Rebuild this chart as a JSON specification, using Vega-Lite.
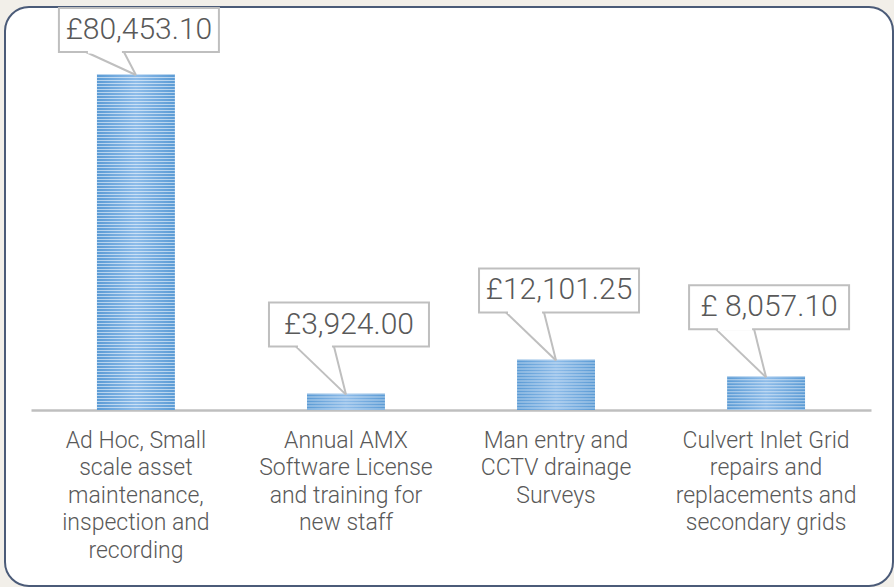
{
  "$schema": "https://vega.github.io/schema/vega-lite/v6.json",
  "autosize": {"type": "none"},
  "width": 888,
  "height": 579,
  "padding": {"left": 5, "top": 7, "right": 1, "bottom": 1},
  "background": "#f2efe9",
  "config": {
    "view": {"fill": "white", "stroke": "#4b5b78", "strokeWidth": 2, "cornerRadius": 24},
    "font": "Roboto"
  },
  "data": {
    "values": [
      {"category": "Ad Hoc, Small|scale asset|maintenance,|inspection and|recording", "amount": 80453.10, "label": "£80,453.10"},
      {"category": "Annual AMX|Software License|and training for|new staff", "amount": 3924.00, "label": "£3,924.00"},
      {"category": "Man entry and|CCTV drainage|Surveys", "amount": 12101.25, "label": "£12,101.25"},
      {"category": "Culvert Inlet Grid|repairs and|replacements and|secondary grids", "amount": 8057.10, "label": "£ 8,057.10"}
    ]
  },
  "transform": [{"calculate": "min(datum.amount, 74467)", "as": "labelAt"}],
  "encoding": {
    "x": {
      "field": "category",
      "type": "nominal",
      "sort": null,
      "scale": {"range": [26, 866], "paddingInner": 0.629, "paddingOuter": 0.314},
      "axis": {
        "title": null,
        "orient": "bottom",
        "offset": -176,
        "domainColor": "#bfbfbf",
        "domainWidth": 2.5,
        "ticks": false,
        "tickSize": 0,
        "labelAngle": 0,
        "labelExpr": "split(datum.value, '|')",
        "labelFont": "Roboto",
        "labelFontWeight": 300,
        "labelFontSize": 23,
        "labelColor": "#595959",
        "labelPadding": 19,
        "labelLineHeight": 27.5,
        "labelBaseline": "top",
        "labelLimit": 0,
        "labelOverlap": false
      }
    }
  },
  "layer": [
    {
      "mark": {
        "type": "bar",
        "fill": {
          "gradient": "linear", "x1": 0, "x2": 1, "y1": 0, "y2": 0,
          "stops": [
            {"offset": 0, "color": "#5b9bd5"},
            {"offset": 0.5, "color": "#8ebce9"},
            {"offset": 1, "color": "#5b9bd5"}
          ]
        }
      },
      "encoding": {
        "y": {"field": "amount", "type": "quantitative", "axis": null,
              "scale": {"domain": [0, 80453.1], "range": [403, 67], "nice": false, "zero": true}}
      }
    },
    {
      "mark": {"type": "rule", "stroke": "white", "strokeOpacity": 0.55, "strokeWidth": 78, "strokeDash": [1, 2], "strokeCap": "butt"},
      "encoding": {
        "y": {"field": "amount", "type": "quantitative", "axis": null},
        "y2": {"datum": 0}
      }
    },
    {
      "mark": {"type": "bar", "width": 160, "fill": "white", "stroke": "#bfbfbf", "strokeWidth": 2, "xOffset": 3, "yOffset": -91, "y2Offset": -47},
      "encoding": {
        "y": {"field": "labelAt", "type": "quantitative", "axis": null},
        "y2": {"field": "labelAt"}
      }
    },
    {
      "mark": {"type": "rule", "stroke": "#bfbfbf", "strokeWidth": 2, "xOffset": -50, "x2Offset": 0, "yOffset": -47, "y2Offset": 1},
      "encoding": {
        "x2": {"field": "category"},
        "y": {"field": "labelAt", "type": "quantitative", "axis": null},
        "y2": {"field": "amount"}
      }
    },
    {
      "mark": {"type": "rule", "stroke": "#bfbfbf", "strokeWidth": 2, "xOffset": -12, "x2Offset": 0, "yOffset": -47, "y2Offset": 1},
      "encoding": {
        "x2": {"field": "category"},
        "y": {"field": "labelAt", "type": "quantitative", "axis": null},
        "y2": {"field": "amount"}
      }
    },
    {
      "mark": {"type": "rule", "stroke": "white", "strokeWidth": 3, "xOffset": -48, "x2Offset": -14, "yOffset": -47},
      "encoding": {
        "x2": {"field": "category"},
        "y": {"field": "labelAt", "type": "quantitative", "axis": null}
      }
    },
    {
      "mark": {"type": "text", "font": "Roboto", "fontWeight": 300, "fontSize": 30, "color": "#595959", "align": "center", "baseline": "middle", "xOffset": 3, "yOffset": -69},
      "encoding": {
        "y": {"field": "labelAt", "type": "quantitative", "axis": null},
        "text": {"field": "label"}
      }
    }
  ]
}
